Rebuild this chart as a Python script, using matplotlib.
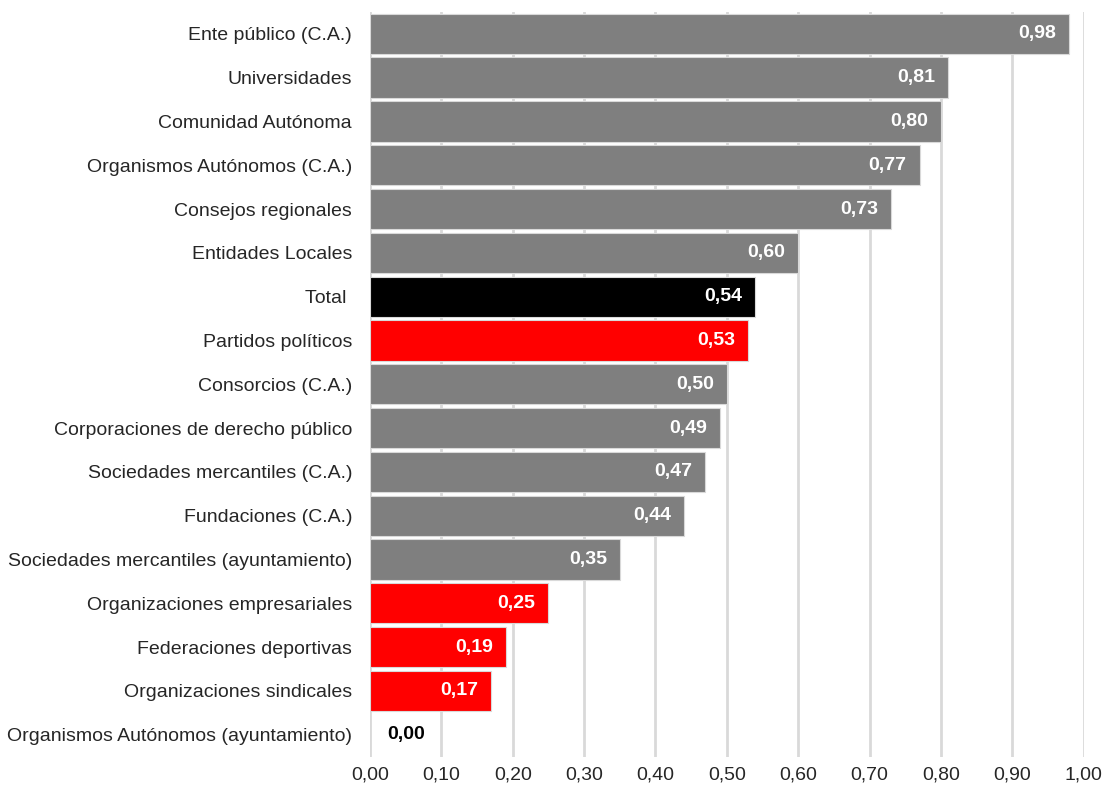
import matplotlib
matplotlib.use("Agg")
import matplotlib.pyplot as plt
from matplotlib.ticker import FuncFormatter

categories = [
    "Ente público (C.A.)", "Universidades", "Comunidad Autónoma",
    "Organismos Autónomos (C.A.)", "Consejos regionales", "Entidades Locales",
    "Total ", "Partidos políticos", "Consorcios (C.A.)",
    "Corporaciones de derecho público", "Sociedades mercantiles (C.A.)",
    "Fundaciones (C.A.)", "Sociedades mercantiles (ayuntamiento)",
    "Organizaciones empresariales", "Federaciones deportivas",
    "Organizaciones sindicales", "Organismos Autónomos (ayuntamiento)",
]
values = [0.98, 0.81, 0.80, 0.77, 0.73, 0.60, 0.54, 0.53, 0.50, 0.49,
          0.47, 0.44, 0.35, 0.25, 0.19, 0.17, 0.00]
groups = ["pub", "pub", "pub", "pub", "pub", "pub", "total", "priv", "pub", "pub",
          "pub", "pub", "pub", "priv", "priv", "priv", "pub"]
xticks = [0.0, 0.1, 0.2, 0.3, 0.4, 0.5, 0.6, 0.7, 0.8, 0.9, 1.0]

color_map = {"pub": "#7f7f7f", "total": "#000000", "priv": "#ff0000"}
fam = ["Liberation Sans Narrow", "Liberation Sans", "DejaVu Sans"]
plt.rcParams["font.family"] = fam

fig = plt.figure(figsize=(11.08, 7.94), dpi=100)
ax = fig.add_axes([0.334, 0.047, 0.644, 0.938])

ypos = list(range(len(categories)))
colors = [color_map[g] for g in groups]
ax.barh(ypos, values, height=0.92, color=colors, edgecolor="#d9d9d9", linewidth=0.8, zorder=3)

for y, v in zip(ypos, values):
    txt = f"{v:.2f}".replace(".", ",")
    if v > 0.05:
        ax.text(v - 0.018, y, txt, ha="right", va="center", color="white",
                fontsize=14, fontweight="bold", zorder=4)
    else:
        ax.text(0.05, y, txt, ha="center", va="center", color="black",
                fontsize=14, fontweight="bold", zorder=4)

ax.set_yticks(ypos)
ax.set_yticklabels(categories, fontsize=14, color="#262626")
ax.set_ylim(len(categories) - 0.5, -0.5)
ax.set_xlim(0, 1.0)
ax.set_xticks(xticks)
ax.xaxis.set_major_formatter(FuncFormatter(lambda x, p: f"{x:.2f}".replace(".", ",")))
ax.tick_params(axis="x", labelsize=14, length=0, pad=7, colors="#262626")
ax.tick_params(axis="y", length=0, pad=13)
ax.grid(axis="x", color="#d9d9d9", linewidth=2, zorder=0)
for s in ax.spines.values():
    s.set_visible(False)

fig.savefig("out.png", dpi=100)
